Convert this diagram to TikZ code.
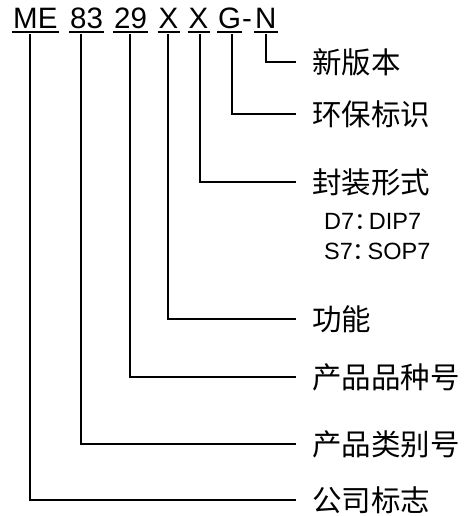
\documentclass[tikz,border=0pt]{standalone}
\usepackage{fontspec}
\setmainfont{Liberation Sans}
\newfontfamily\cjk{Noto Sans CJK SC}
\newfontfamily\cjkhalf[RawFeature=+halt]{Noto Sans CJK SC}
\begin{document}
\begin{tikzpicture}[x=1pt,y=-1pt,
  code/.style={anchor=base west,inner sep=0pt,font=\fontsize{29.5}{30}\selectfont},
  lab/.style={anchor=west,inner xsep=16pt,inner ysep=0pt,font=\cjk\fontsize{29.5}{30}\selectfont},
  sub/.style={anchor=west,inner sep=0pt,font=\fontsize{23.5}{24}\selectfont},
  wire/.style={line width=1.6pt},
  uline/.style={line width=1.4pt}]
\useasboundingbox (0,0) rectangle (469,516);
% code characters
\node[code] (me) at (13,29) {ME};
\node[code] (n83) at (70,29) {83};
\node[code] (n29) at (114,29) {29};
\node[code] (x1) at (158.5,29) {X};
\node[code] (x2) at (188.5,29) {X};
\node[code] (g) at (218,29) {G};
\node[code] (dash) at (242,29) {-};
\node[code] (n) at (255,29) {N};
\foreach \k in {me,n83,n29,x1,x2,g,n}
  \draw[uline] ([shift={(-1pt,-3pt)}]\k.base west) -- ([shift={(1pt,-3pt)}]\k.base east);
% attachment points under the code
\coordinate (cme) at (30,34);
\coordinate (c83) at (81,34);
\coordinate (c29) at (130,34);
\coordinate (cx1) at (168,34);
\coordinate (cx2) at (200,34);
\coordinate (cg) at (232,34);
\coordinate (cn) at (266,34);
% labels
\node[lab] (lnew) at (296,62) {新版本};
\node[lab] (lenv) at (296,114) {环保标识};
\node[lab] (lpkg) at (296,182) {封装形式};
\node[sub] (d7) at (324,221) {D7{\cjkhalf ：}\hspace{3pt}DIP7};
\node[sub] (s7) at (324,251) {S7{\cjkhalf ：}\hspace{3pt}SOP7};
\node[lab] (lfun) at (296,319) {功能};
\node[lab] (lvar) at (296,377) {产品品种号};
\node[lab] (lcat) at (296,444) {产品类别号};
\node[lab] (lco) at (296,500) {公司标志};
% connectors
\draw[wire] (cn) |- (lnew.west);
\draw[wire] (cg) |- (lenv.west);
\draw[wire] (cx2) |- (lpkg.west);
\draw[wire] (cx1) |- (lfun.west);
\draw[wire] (c29) |- (lvar.west);
\draw[wire] (c83) |- (lcat.west);
\draw[wire] (cme) |- (lco.west);
\end{tikzpicture}
\end{document}
